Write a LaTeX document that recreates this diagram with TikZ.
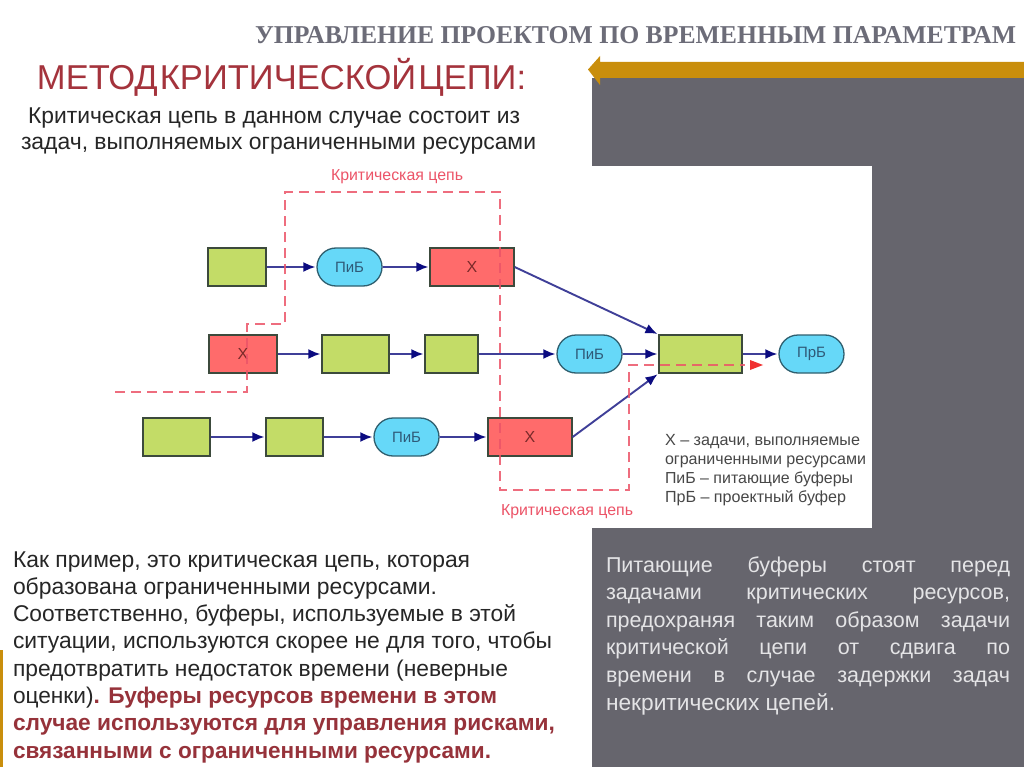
\documentclass[tikz,border=0pt]{standalone}
\usepackage{fontspec}
\usepackage{graphicx}
\setmainfont{Liberation Sans}
\newfontfamily\serifttl{Liberation Serif}
\usetikzlibrary{arrows.meta,shapes.misc}
\definecolor{panelgray}{HTML}{66656D}
\definecolor{goldbar}{HTML}{C98E0C}
\definecolor{headred}{HTML}{A4333C}
\definecolor{boldred}{HTML}{96323A}
\definecolor{titlegray}{HTML}{6C6C78}
\definecolor{taskgreen}{HTML}{C3DC67}
\definecolor{taskred}{HTML}{FF6B6B}
\definecolor{bufcyan}{HTML}{66D8F8}
\definecolor{edgedark}{HTML}{3C4A3C}
\definecolor{bufedge}{HTML}{2F5F6F}
\definecolor{linkblue}{HTML}{3F3F98}
\definecolor{headnavy}{HTML}{0B0B80}
\definecolor{chainred}{HTML}{EC5468}
\definecolor{chainhead}{HTML}{F03030}
\definecolor{legendgray}{HTML}{474747}
\definecolor{inkdark}{HTML}{262626}
\definecolor{panelink}{HTML}{E4E4E6}
\definecolor{bufink}{HTML}{2F5A78}
\definecolor{xink}{HTML}{7A2A2A}
\newcommand\fitw[2]{\resizebox{#1pt}{!}{#2}}
\newcommand\szA{\fontsize{20}{24}\selectfont}
\newcommand\szB{\fontsize{21.5}{25}\selectfont}
\tikzset{
  x=1pt,y=-1pt,
  txt/.style={inner sep=0pt,outer sep=0pt,anchor=base west},
  dark/.style={txt,text=inkdark,font=\szA},
  pale/.style={txt,text=panelink,font=\szB},
  task/.style={rectangle,draw=edgedark,line width=1.3pt,inner sep=0pt,minimum height=38pt,text=xink,font=\fontsize{16}{18}\selectfont},
  gtask/.style={task,fill=taskgreen},
  rtask/.style={task,fill=taskred},
  buf/.style={rounded rectangle,draw=bufedge,line width=1.3pt,fill=bufcyan,inner sep=0pt,minimum height=38pt,minimum width=65pt,text=bufink,font=\fontsize{15}{17}\selectfont},
  link/.style={draw=linkblue,line width=1.9pt,-{Latex[length=12pt,width=10pt,color=headnavy]},shorten >=1pt},
  chain/.style={draw=chainred,draw opacity=.85,line width=1.8pt,dash pattern=on 10pt off 6pt},
  chainlbl/.style={inner sep=0pt,text=chainred,font=\fontsize{13.5}{16}\selectfont},
  legend/.style={txt,text=legendgray,font=\fontsize{13.5}{16}\selectfont}
}
\begin{document}
\begin{tikzpicture}
\useasboundingbox (0,0) rectangle (1024,767);
\fill[white] (0,0) rectangle (1024,767);
% panels
\fill[panelgray] (592,78) rectangle (1024,767);
\fill[white] (592,166) rectangle (872,528);
\fill[goldbar] (0,650) rectangle (3,767);
\fill[goldbar] (1024,62) -- (600,62) -- (600,56) -- (588,69.5) -- (600,85) -- (600,78) -- (1024,78) -- cycle;
% heading text
\node[txt,text=titlegray] (ttl) at (255,43.5) {\fitw{761}{\serifttl\bfseries\fontsize{23}{26}\selectfont УПРАВЛЕНИЕ ПРОЕКТОМ ПО ВРЕМЕННЫМ ПАРАМЕТРАМ}};
\node[txt,text=headred] (hd) at (37,90) {\fitw{489}{\fontsize{34}{38}\selectfont МЕТОД\hspace{2pt}КРИТИЧЕСКОЙ\hspace{2pt}ЦЕПИ:}};
\node[dark] (t1) at (28,124) {\fitw{492}{Критическая цепь в данном случае состоит из}};
\node[dark] (t2) at (21,150) {\fitw{515}{задач, выполняемых ограниченными ресурсами}};
% diagram nodes
\node[gtask,minimum width=58pt] (g1) at (237,267) {};
\node[buf] (p1) at (349.5,267) {ПиБ};
\node[rtask,minimum width=84pt] (x1) at (472,267) {Х};
\node[rtask,minimum width=68pt] (x2) at (243,354) {Х};
\node[gtask,minimum width=67pt] (g2) at (355.5,354) {};
\node[gtask,minimum width=53pt] (g3) at (451.5,354) {};
\node[buf] (p2) at (589.5,354) {ПиБ};
\node[gtask,minimum width=83pt] (g4) at (700.5,354) {};
\node[buf] (pr) at (811.5,354) {ПрБ};
\node[gtask,minimum width=67pt] (g5) at (176.5,437) {};
\node[gtask,minimum width=57pt] (g6) at (294.5,437) {};
\node[buf] (p3) at (406.5,437) {ПиБ};
\node[rtask,minimum width=84pt] (x3) at (530,437) {Х};
% links
\draw[link] (g1) -- (p1);
\draw[link] (p1) -- (x1);
\draw[link] (x1.east) -- (g4.north west);
\draw[link] (x2) -- (g2);
\draw[link] (g2) -- (g3);
\draw[link] (g3) -- (p2);
\draw[link] (p2) -- (g4);
\draw[link] (g4) -- (pr);
\draw[link] (g5) -- (g6);
\draw[link] (g6) -- (p3);
\draw[link] (p3) -- (x3);
\draw[link] (x3.east) -- (g4.south west);
% critical chain
\coordinate (c0) at (115,392);
\coordinate (c1) at (247,392);
\coordinate (c2) at (247,324);
\coordinate (c3) at (285,324);
\coordinate (c4) at (285,192);
\coordinate (c5) at (500,192);
\coordinate (c6) at (500,490);
\coordinate (c7) at (629,490);
\coordinate (c8) at (629,365);
\coordinate (c9) at (763,365);
\coordinate (c9a) at (745,365);
\draw[chain] (c0) -- (c1) -- (c2) -- (c3) -- (c4) -- (c5) -- (c6) -- (c7) -- (c8) -- (c9a);
\fill[chainhead] (c9) -- (750,360) -- (750,370) -- cycle;
\node[chainlbl] (cl1) at (397,177) {\fitw{132}{Критическая цепь}};
\node[chainlbl] (cl2) at (567,512) {\fitw{132}{Критическая цепь}};
% legend
\node[legend] (l1) at (665,445) {\fitw{195}{Х – задачи, выполняемые}};
\node[legend] (l2) at (665,464) {\fitw{201}{ограниченными ресурсами}};
\node[legend] (l3) at (665,483) {\fitw{188}{ПиБ – питающие буферы}};
\node[legend] (l4) at (665,502) {\fitw{181}{ПрБ – проектный буфер}};
% lower left
\node[dark] (b1) at (13,567) {\fitw{457}{Как пример, это критическая цепь, которая}};
\node[dark] (b2) at (13,594.3) {\fitw{424}{образована ограниченными ресурсами.}};
\node[dark] (b3) at (13,621.6) {\fitw{503}{Соответственно, буферы, используемые в этой}};
\node[dark] (b4) at (13,648.9) {\fitw{539}{ситуации, используются скорее не для того, чтобы}};
\node[dark] (b5) at (13,676.2) {\fitw{495}{предотвратить недостаток времени (неверные}};
\node[dark] (b6) at (13,703.5) {\fitw{484}{оценки)\textcolor{boldred}{\bfseries. Буферы ресурсов времени в этом}}};
\node[txt,text=boldred,font=\szA\bfseries] (b7) at (13,730.8) {\fitw{542}{случае используются для управления рисками,}};
\node[txt,text=boldred,font=\szA\bfseries] (b8) at (13,758.1) {\fitw{478}{связанными с ограниченными ресурсами.}};
% lower right
\node[pale] (r1) at (606,572) {\makebox[404pt][s]{Питающие буферы стоят перед}};
\node[pale] (r2) at (606,599.6) {\makebox[404pt][s]{задачами критических ресурсов,}};
\node[pale] (r3) at (606,627.2) {\makebox[404pt][s]{предохраняя таким образом задачи}};
\node[pale] (r4) at (606,654.8) {\makebox[404pt][s]{критической цепи от сдвига по}};
\node[pale] (r5) at (606,682.4) {\makebox[404pt][s]{времени в случае задержки задач}};
\node[pale] (r6) at (606,710) {\fitw{229}{некритических цепей.}};
\end{tikzpicture}
\end{document}
